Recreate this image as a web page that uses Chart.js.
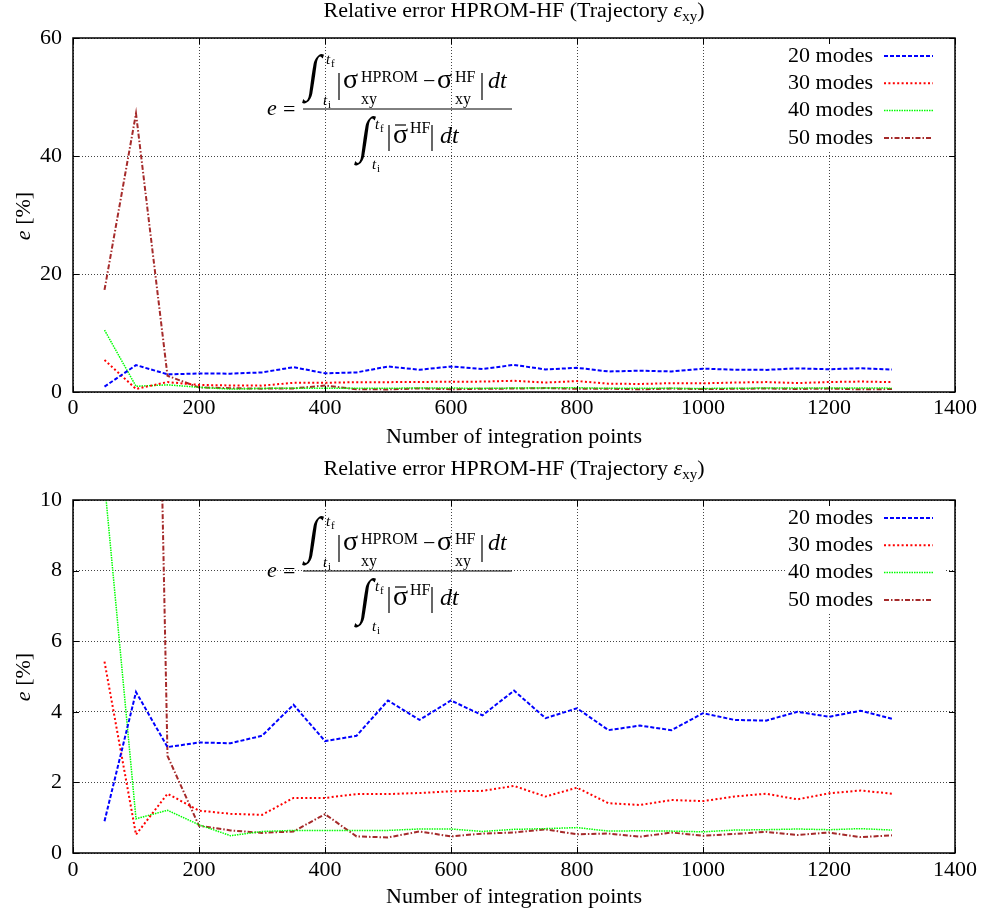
<!DOCTYPE html>
<html>
<head>
<meta charset="utf-8">
<script src="https://cdn.jsdelivr.net/npm/chart.js@4.4.1/dist/chart.umd.min.js"></script>
<style>
body{margin:0;background:#fff;}
#wrap{position:relative;width:984px;height:916px;}
canvas{position:absolute;left:0;}
#c1{top:0;}
#c2{top:458px;}
#ov{position:absolute;left:0;top:0;pointer-events:none;font-family:"Liberation Serif","Times New Roman",serif;}
</style>
</head>
<body>
<div id="wrap">
<canvas id="c1" width="984" height="458"></canvas>
<canvas id="c2" width="984" height="458"></canvas>
<svg id="ov" width="984" height="916" xmlns="http://www.w3.org/2000/svg"></svg>
</div>
<script>
// data
var points = [50,100,150,200,250,300,350,400,450,500,550,600,650,700,750,800,850,900,950,1000,1050,1100,1150,1200,1250,1300];
var modes20 = [0.9,4.56,3.0,3.13,3.11,3.32,4.2,3.17,3.32,4.32,3.77,4.32,3.9,4.6,3.82,4.1,3.48,3.61,3.48,3.96,3.77,3.75,4.0,3.86,4.03,3.8];
var modes30 = [5.42,0.52,1.68,1.2,1.11,1.08,1.56,1.56,1.67,1.67,1.7,1.75,1.76,1.9,1.6,1.85,1.41,1.36,1.5,1.47,1.6,1.68,1.52,1.69,1.77,1.68];
var modes40 = [10.5,0.97,1.21,0.8,0.49,0.61,0.64,0.64,0.64,0.64,0.68,0.68,0.61,0.67,0.69,0.72,0.62,0.63,0.62,0.6,0.65,0.66,0.68,0.66,0.69,0.65];
var modes50 = [17.3,47.2,2.75,0.77,0.64,0.57,0.61,1.1,0.47,0.44,0.61,0.47,0.55,0.58,0.67,0.53,0.55,0.46,0.58,0.49,0.54,0.6,0.51,0.58,0.45,0.5];
var seriesLabels = ['20 modes','30 modes','40 modes','50 modes'];
var xTicks = {min:0, max:1400, step:200};

var FONT = '"Liberation Serif","Times New Roman",serif';

function xy(vals){
  var out = [];
  for (var i = 0; i < points.length; i++) out.push({x:points[i], y:vals[i]});
  return out;
}

function datasets(){
  return [
    {label:seriesLabels[0], data:xy(modes20), borderColor:'#0000ff', borderWidth:2, borderDash:[4,2]},
    {label:seriesLabels[1], data:xy(modes30), borderColor:'#ff0000', borderWidth:2, borderDash:[2,2.4]},
    {label:seriesLabels[2], data:xy(modes40), borderColor:'#00ff00', borderWidth:1.5, borderDash:[1.5,1]},
    {label:seriesLabels[3], data:xy(modes50), borderColor:'#a52a2a', borderWidth:2, borderDash:[5,2,1.5,2]}
  ];
}

// gnuplot style box, inward ticks and key
var framePlugin = {
  id:'frame',
  afterDatasetsDraw:function(chart){
    var a = chart.chartArea, ctx = chart.ctx;
    ctx.save();
    ctx.fillStyle = '#fff';
    ctx.fillRect(a.right-170, a.top+3, 161, 111);
    ctx.font = '22px ' + FONT;
    ctx.textAlign = 'right';
    ctx.textBaseline = 'middle';
    chart.data.datasets.forEach(function(ds,i){
      var y = a.top + 18 + i*27.3;
      ctx.fillStyle = '#000';
      ctx.fillText(ds.label, a.right-82, y);
      ctx.strokeStyle = ds.borderColor;
      ctx.lineWidth = ds.borderWidth;
      ctx.setLineDash(ds.borderDash);
      ctx.beginPath();
      ctx.moveTo(a.right-71, y);
      ctx.lineTo(a.right-22, y);
      ctx.stroke();
    });
    ctx.restore();
  },
  afterDraw:function(chart){
    var a = chart.chartArea, ctx = chart.ctx;
    var xs = chart.scales.x, ys = chart.scales.y;
    ctx.save();
    ctx.strokeStyle = '#000';
    ctx.lineWidth = 1;
    ctx.setLineDash([]);
    ctx.beginPath();
    xs.ticks.forEach(function(t){
      var p = Math.round(xs.getPixelForValue(t.value)) + 0.5;
      ctx.moveTo(p, a.bottom); ctx.lineTo(p, a.bottom-6);
      ctx.moveTo(p, a.top); ctx.lineTo(p, a.top+6);
    });
    ys.ticks.forEach(function(t){
      var p = Math.round(ys.getPixelForValue(t.value)) + 0.5;
      ctx.moveTo(a.left, p); ctx.lineTo(a.left+6, p);
      ctx.moveTo(a.right, p); ctx.lineTo(a.right-6, p);
    });
    ctx.stroke();
    ctx.lineWidth = 1.5;
    ctx.strokeRect(a.left, a.top, a.right-a.left, a.bottom-a.top);
    ctx.restore();
  }
};

function plain(v){ return String(v); }

function makeChart(id, yMax, yStep, top, xHeight, tickPad, titlePad){
  return new Chart(document.getElementById(id), {
    type:'line',
    data:{datasets:datasets()},
    options:{
      responsive:false,
      animation:false,
      devicePixelRatio:1,
      layout:{padding:{top:top, right:29, left:0, bottom:0}},
      elements:{point:{radius:0}, line:{tension:0, fill:false}},
      plugins:{legend:{display:false}, tooltip:{enabled:false}},
      scales:{
        x:{
          type:'linear', min:xTicks.min, max:xTicks.max,
          ticks:{stepSize:xTicks.step, color:'#000', padding:tickPad, font:{family:FONT, size:22}, maxRotation:0, callback:plain},
          grid:{color:'#444', lineWidth:1, drawTicks:false},
          border:{display:false, dash:[1,2]},
          title:{display:true, text:'Number of integration points', color:'#000', font:{family:FONT, size:22}, padding:{top:0, bottom:titlePad}},
          afterFit:function(s){ s.height = xHeight; }
        },
        y:{
          min:0, max:yMax,
          ticks:{stepSize:yStep, color:'#000', padding:11, font:{family:FONT, size:22}, callback:plain},
          grid:{color:'#444', lineWidth:1, drawTicks:false},
          border:{display:false, dash:[1,2]},
          afterFit:function(s){ s.width = 73; }
        }
      }
    },
    plugins:[framePlugin]
  });
}

makeChart('c1', 60, 20, 38, 66, 3, 8);
makeChart('c2', 10, 2, 42, 63, 4, 6);

// titles, y label and the error formula as svg text
function txt(x, y, s, size, extra){
  return '<text x="'+x+'" y="'+y+'" font-size="'+size+'"'+(extra||'')+'>'+s+'</text>';
}
function integral(x, y){
  return '<text transform="translate('+x+','+y+') skewX(-8) scale(1,1.26)" font-size="40">\u222b</text>';
}
function ln(x1, y1, x2, y2, w){
  return '<line x1="'+x1+'" y1="'+y1+'" x2="'+x2+'" y2="'+y2+'" stroke="#000" stroke-width="'+(w||1.2)+'"/>';
}
function title(y){
  return '<text x="514" y="'+y+'" font-size="22" text-anchor="middle">Relative error HPROM-HF (Trajectory '+
    '<tspan font-style="italic">\u03b5</tspan><tspan font-size="15" dy="4">xy</tspan><tspan dy="-4">)</tspan></text>';
}
function ylabel(cy){
  return '<text transform="translate(30,'+cy+') rotate(-90)" font-size="22" text-anchor="middle">'+
    '<tspan font-style="italic">e</tspan> [%]</text>';
}
function formula(T){
  var it = ' font-style="italic"';
  var s = '';
  s += txt(267, T+77, 'e', 22, it);
  s += txt(283, T+78, '=', 22);
  s += ln(303, T+71, 512, T+71, 1);
  // numerator
  s += integral(306, T+52);
  s += txt(326, T+26, 't', 15, it) + txt(331, T+29, 'f', 11);
  s += txt(323, T+67, 't', 15, it) + txt(328, T+70, 'i', 11);
  s += ln(339, T+35, 339, T+62);
  s += txt(343, T+50, '\u03c3', 28);
  s += txt(361, T+44, 'HPROM', 16) + txt(361, T+66, 'xy', 16);
  s += txt(423, T+50, '\u2212', 22);
  s += txt(437, T+50, '\u03c3', 28);
  s += txt(455, T+44, 'HF', 16) + txt(455, T+66, 'xy', 16);
  s += ln(482, T+35, 482, T+62);
  s += txt(488, T+50, 'dt', 24, it);
  // denominator
  s += integral(358, T+114);
  s += txt(375, T+91, 't', 15, it) + txt(380, T+94, 'f', 11);
  s += txt(372, T+131, 't', 15, it) + txt(377, T+134, 'i', 11);
  s += ln(389, T+87, 389, T+113);
  s += txt(393, T+105, '\u03c3', 28);
  s += ln(395, T+87, 406, T+87, 1.2);
  s += txt(410, T+95, 'HF', 16);
  s += ln(432, T+87, 432, T+113);
  s += txt(440, T+105, 'dt', 24, it);
  return s;
}

document.getElementById('ov').innerHTML =
  title(17) + ylabel(216) + formula(38) +
  title(475) + ylabel(677) + formula(500);
</script>
</body>
</html>
